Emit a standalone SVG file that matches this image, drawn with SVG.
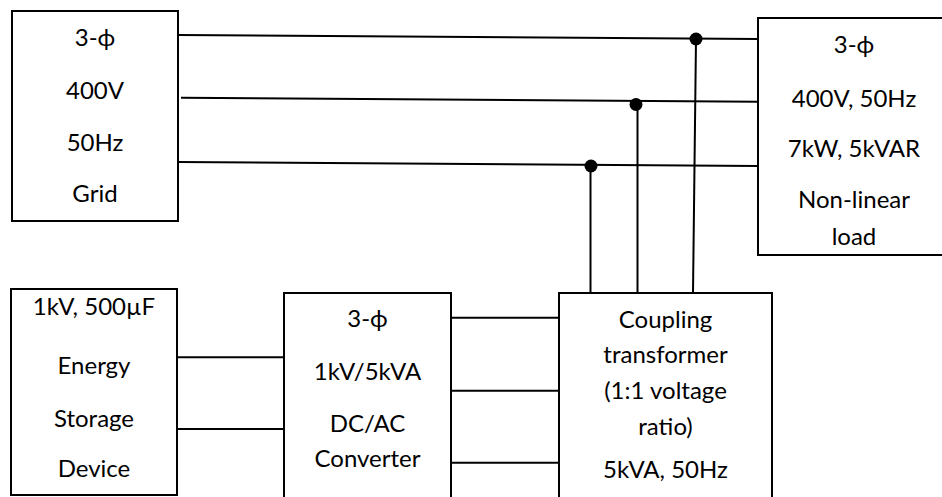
<svg xmlns="http://www.w3.org/2000/svg" width="942" height="497" viewBox="0 0 942 497">
<style>
.box{fill:#fff;stroke:#000;stroke-width:2}
.w{stroke:#000;stroke-width:2;fill:none}
text{font-family:Lato,"Open Sans","DejaVu Sans",sans-serif;font-size:24px;fill:#000;text-anchor:middle}
</style>
<rect width="942" height="497" fill="#fff"/>
<g id="connectors">
<path class="w" d="M178 35 L758 39"/>
<path class="w" d="M181 97.7 L758 101.7"/>
<path class="w" d="M178 162 L758 166"/>
<path class="w" d="M696 39 L693 293"/>
<path class="w" d="M637.5 105 L637.5 293"/>
<path class="w" d="M590.5 166 L590.5 293"/>
<circle cx="696" cy="39" r="6.5" fill="#000"/>
<circle cx="636" cy="104.5" r="6.5" fill="#000"/>
<circle cx="591" cy="166" r="6.5" fill="#000"/>
<path class="w" d="M177 357.3 L284 357.3"/>
<path class="w" d="M177 429 L284 429"/>
<path class="w" d="M451 317.7 L559 317.7"/>
<path class="w" d="M451 390.7 L559 390.7"/>
<path class="w" d="M451 462.7 L559 462.7"/>
</g>
<g id="grid">
<rect class="box" x="12" y="11" width="166" height="210"/>
<text x="95" y="46">3-ϕ</text>
<text x="95" y="99">400V</text>
<text x="95" y="151">50Hz</text>
<text x="95" y="202">Grid</text>
</g>
<g id="load">
<rect class="box" x="758" y="18" width="200" height="237"/>
<text x="854" y="53">3-ϕ</text>
<text x="854" y="107">400V, 50Hz</text>
<text x="854" y="157">7kW, 5kVAR</text>
<text x="854" y="208">Non-linear</text>
<text x="854" y="245">load</text>
</g>
<g id="storage">
<rect class="box" x="11" y="289" width="166" height="206"/>
<text x="94" y="315">1kV, 500µF</text>
<text x="94" y="374">Energy</text>
<text x="94" y="427">Storage</text>
<text x="94" y="477">Device</text>
</g>
<g id="converter">
<rect class="box" x="284" y="293" width="167" height="220"/>
<text x="367.5" y="327">3-ϕ</text>
<text x="367.5" y="380">1kV/5kVA</text>
<text x="367.5" y="432">DC/AC</text>
<text x="367.5" y="467">Converter</text>
</g>
<g id="transformer">
<rect class="box" x="559" y="293" width="213" height="220"/>
<text x="665.5" y="328">Coupling</text>
<text x="665.5" y="363">transformer</text>
<text x="665.5" y="399">(1:1 voltage</text>
<text x="665.5" y="435">ratio)</text>
<text x="665.5" y="478">5kVA, 50Hz</text>
</g>
</svg>
